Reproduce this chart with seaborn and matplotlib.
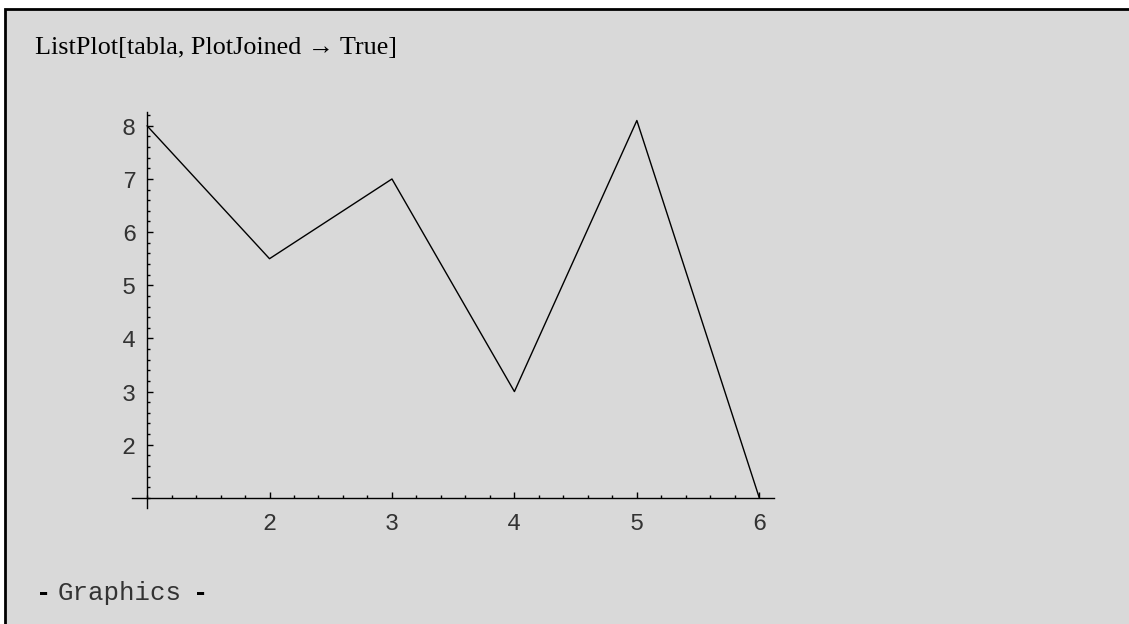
import numpy as np
import pandas as pd
import seaborn as sns
import matplotlib.pyplot as plt
from matplotlib.patches import Rectangle
from matplotlib.ticker import FixedLocator, MultipleLocator

# data from the ListPlot
x_vals = [1, 2, 3, 4, 5, 6]
y_vals = [8, 5.5, 7, 3, 8.1, 1]
x_ticks = [2, 3, 4, 5, 6]
y_ticks = [2, 3, 4, 5, 6, 7, 8]

bg = '#d9d9d9'
mono = 'Liberation Mono'
serif = 'Liberation Serif'

sns.set_style('white')

W, H = 1129, 624
fig = plt.figure(figsize=(W / 100, H / 100), dpi=100, facecolor='white')

# notebook cell frame, drawn behind everything
frame = Rectangle((5 / W, -0.1), 1.2, 1.1 - 9 / H,
                  transform=fig.transFigure, facecolor=bg,
                  edgecolor='black', linewidth=2, zorder=-10)
fig.add_artist(frame)

ax = fig.add_axes([132 / W, 1 - 508 / H, 642 / W, 396 / H])
ax.set_zorder(5)
ax.set_facecolor('none')

df = pd.DataFrame({'x': x_vals, 'y': y_vals})
sns.lineplot(data=df, x='x', y='y', ax=ax, color='black', linewidth=1.0)

ax.set_xlim(0.877, 6.12)
ax.set_ylim(0.81, 8.26)

for s in ['top', 'right']:
    ax.spines[s].set_visible(False)
ax.spines['left'].set_position(('data', 1))
ax.spines['bottom'].set_position(('data', 1))
for s in ['left', 'bottom']:
    ax.spines[s].set_color('black')
    ax.spines[s].set_linewidth(1.0)

ax.xaxis.set_major_locator(FixedLocator(x_ticks))
ax.yaxis.set_major_locator(FixedLocator(y_ticks))
ax.xaxis.set_minor_locator(MultipleLocator(0.2))
ax.yaxis.set_minor_locator(MultipleLocator(0.2))
ax.tick_params(which='major', direction='in', length=4, width=1, color='black',
               labelsize=17, labelcolor='#333333')
ax.tick_params(which='minor', direction='in', length=2.2, width=1, color='black')
ax.tick_params(axis='x', which='both', bottom=True, pad=10)
ax.tick_params(axis='y', which='both', left=True, pad=8)
for lab in ax.get_xticklabels() + ax.get_yticklabels():
    lab.set_fontfamily(mono)
ax.set_xlabel('')
ax.set_ylabel('')

fig.text(35 / W, 1 - 54 / H, 'ListPlot[tabla, PlotJoined \u2192 True]',
         fontfamily=serif, fontsize=18.8, color='black', va='baseline')

fig.text(36 / W, 1 - 600 / H, '-', fontfamily=mono, fontsize=18,
         fontweight='bold', color='black', va='baseline')
fig.text(58 / W, 1 - 600 / H, 'Graphics', fontfamily=mono, fontsize=18.5,
         color='#333333', va='baseline')
fig.text(193 / W, 1 - 600 / H, '-', fontfamily=mono, fontsize=18,
         fontweight='bold', color='black', va='baseline')

fig.savefig('out.png', dpi=100, facecolor='white')
